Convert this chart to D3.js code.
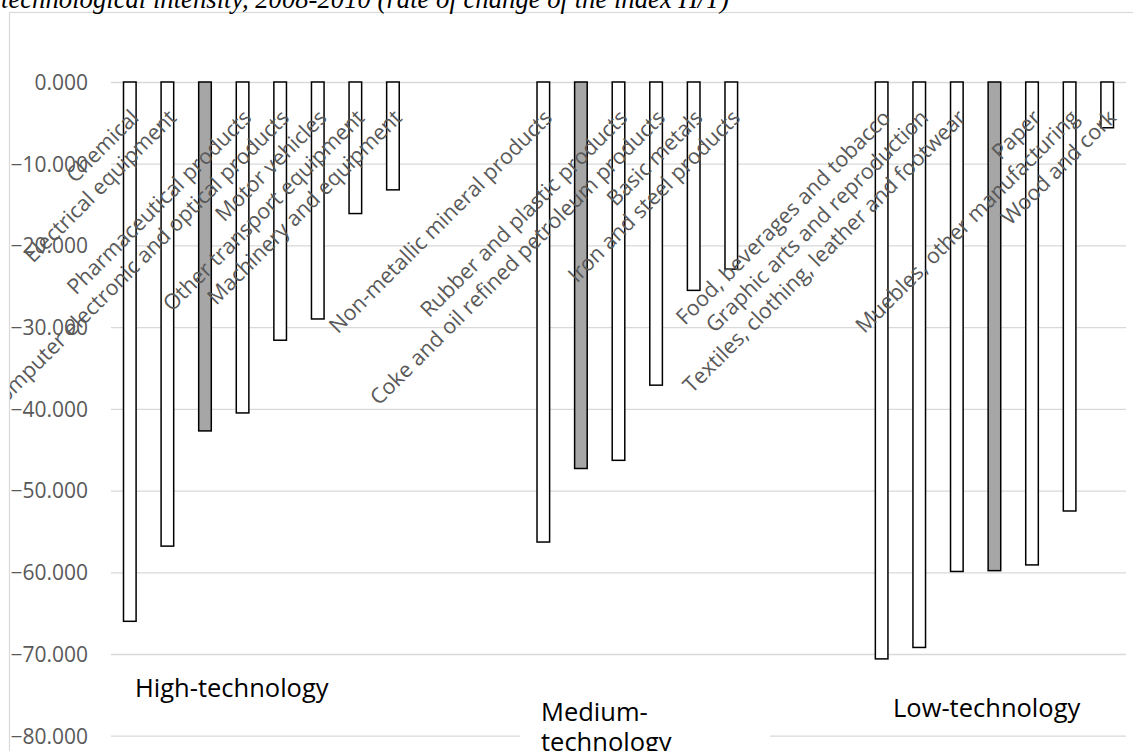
<!DOCTYPE html>
<html><head><meta charset="utf-8">
<script src="https://cdn.jsdelivr.net/npm/d3@7"></script>
<style>body{margin:0;background:#fff;} svg{display:block}</style>
</head><body>
<svg id="c" width="1133" height="751"></svg>
<script>
const titleText = "technological intensity, 2008-2010 (rate of change of the index H/T)";
const groupNames = ["High-technology", "Medium-technology", "Low-technology"];
const highCategories = ["Chemical","Electrical equipment","High-technology","Pharmaceutical products","Computer electronic and optical products","Motor vehicles","Other transport equipment","Machinery and equipment"];
const highValues = [-66.0,-56.8,-42.7,-40.5,-31.6,-29.0,-16.1,-13.2];
const mediumCategories = ["Non-metallic mineral products","Medium-technology","Rubber and plastic products","Coke and oil refined petroleum products","Basic metals","Iron and steel products"];
const mediumValues = [-56.3,-47.3,-46.3,-37.1,-25.5,-22.9];
const lowCategories = ["Food, beverages and tobacco","Graphic arts and reproduction","Textiles, clothing, leather and footwear","Low-technology","Paper","Muebles, other manufacturing","Wood and cork"];
const lowValues = [-70.6,-69.2,-59.9,-59.8,-59.1,-52.5,-5.6];
const yTicks = [0,-10,-20,-30,-40,-50,-60,-70,-80];

const groups = [
  {name: groupNames[0], cats: highCategories, vals: highValues},
  {name: groupNames[1], cats: mediumCategories, vals: mediumValues},
  {name: groupNames[2], cats: lowCategories, vals: lowValues}
];
const GAP = 3;
const slots = [], bars = [];
groups.forEach((g, gi) => {
  g.cats.forEach((c, i) => {
    const key = gi + ":" + i;
    slots.push(key);
    bars.push({key, name: c, value: g.vals[i], total: c === g.name});
  });
  if (gi < groups.length - 1) for (let k = 0; k < GAP; k++) slots.push("gap" + gi + k);
});

const svg = d3.select("#c");
const x = d3.scaleBand().domain(slots).range([111, 1126]).paddingInner(0.665).paddingOuter(0.3325);
const y = d3.scaleLinear().domain([-80, 0]).range([735.7, 82]);

// chart-area clip
svg.append("defs").append("clipPath").attr("id", "area")
  .append("rect").attr("x", 10).attr("y", 13).attr("width", 1200).attr("height", 800);

// outer chart border
svg.append("rect").attr("x", 9.5).attr("y", 12.5).attr("width", 1200).attr("height", 800)
  .attr("fill", "none").attr("stroke", "#d9d9d9").attr("stroke-width", 1.2);

// title (clipped at top)
svg.append("text").attr("x", 1).attr("y", 8)
  .attr("font-family", "'Liberation Serif', 'Times New Roman', serif")
  .attr("font-style", "italic").attr("font-size", 26.7).attr("fill", "#000")
  .text(titleText);

const plot = svg.append("g").attr("clip-path", "url(#area)");

// gridlines + y tick labels
const yAxis = d3.axisLeft(y).tickValues(yTicks).tickSize(-(1126 - 111)).tickFormat(d3.format(".3f"));
const ga = plot.append("g").attr("transform", "translate(111,0)").call(yAxis);
ga.select(".domain").remove();
ga.selectAll(".tick line").attr("stroke", "#d9d9d9").attr("stroke-width", 1.3);
ga.selectAll(".tick text").attr("x", -23).attr("dy", "0.35em")
  .attr("font-family", "'Open Sans', sans-serif").attr("font-size", 21).attr("fill", "#595959");

// bars
plot.append("g").selectAll("rect").data(bars).join("rect")
  .attr("x", d => x(d.key)).attr("width", x.bandwidth())
  .attr("y", y(0)).attr("height", d => y(d.value) - y(0))
  .attr("fill", d => d.total ? "#a6a6a6" : "#fff")
  .attr("stroke", "#000").attr("stroke-width", 1.5);

// rotated category labels
plot.append("g").selectAll("text").data(bars.filter(d => !d.total)).join("text")
  .attr("transform", d => `translate(${x(d.key) + x.bandwidth() + 4},${y(0) + 37}) rotate(-45)`)
  .attr("text-anchor", "end")
  .attr("font-family", "'Open Sans', sans-serif").attr("font-size", 21.5).attr("fill", "#595959")
  .text(d => d.name);

// group labels (text boxes with white background)
plot.append("rect").attr("x", 520).attr("y", 690).attr("width", 250).attr("height", 70).attr("fill", "#fff");
const gl = plot.append("g").attr("font-family", "'Open Sans', sans-serif").attr("font-size", 25.5).attr("fill", "#000");
gl.append("text").attr("x", 135).attr("y", 697).text(groupNames[0]);
gl.append("text").attr("x", 541).attr("y", 721).text("Medium-");
gl.append("text").attr("x", 541).attr("y", 751).text("technology");
gl.append("text").attr("x", 893).attr("y", 717).text(groupNames[2]);
</script>
</body></html>
